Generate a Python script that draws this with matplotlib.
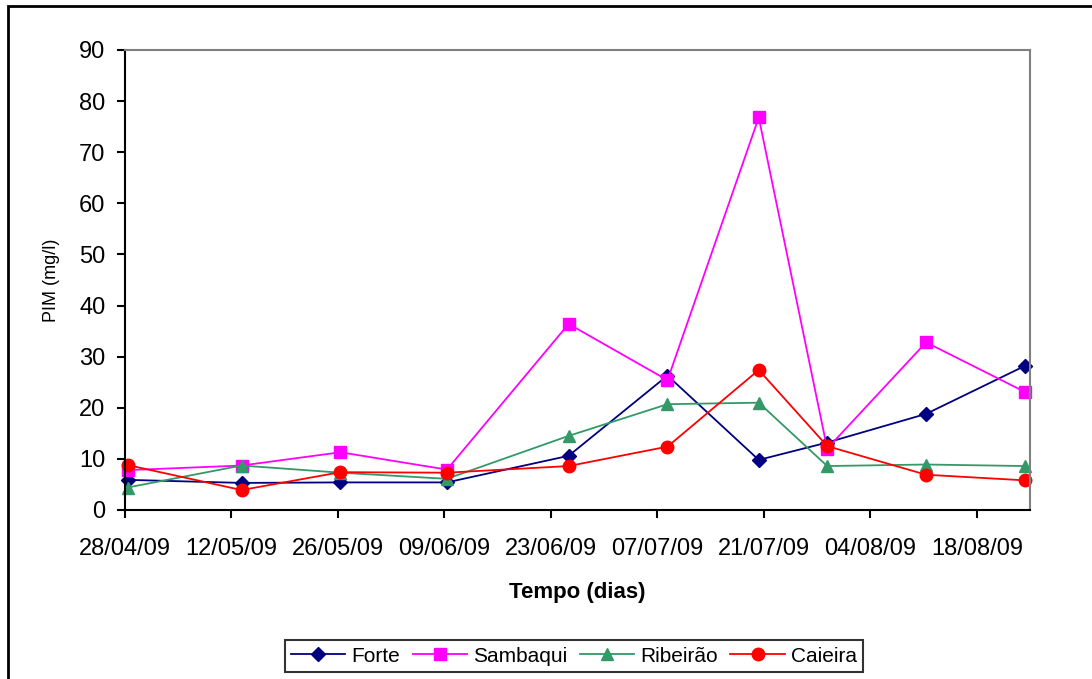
import matplotlib
matplotlib.use("Agg")
import matplotlib.pyplot as plt
import matplotlib.dates as mdates
from matplotlib.patches import Rectangle
from datetime import datetime, timedelta

plt.rcParams['font.family'] = ['Liberation Sans', 'DejaVu Sans']

datas = ["28/04/09", "13/05/09", "26/05/09", "09/06/09", "25/06/09",
         "08/07/09", "20/07/09", "29/07/09", "11/08/09", "24/08/09"]
forte = [5.9, 5.3, 5.4, 5.4, 10.6, 26.3, 9.8, 13.2, 18.8, 28.2]
sambaqui = [7.8, 8.7, 11.3, 7.9, 36.4, 25.4, 76.8, 12.0, 32.8, 23.1]
ribeirao = [4.4, 8.7, 7.3, 6.1, 14.5, 20.7, 21.0, 8.6, 8.9, 8.6]
caieira = [8.8, 3.9, 7.4, 7.3, 8.6, 12.4, 27.4, 12.5, 6.9, 5.8]

x = [datetime.strptime(d, "%d/%m/%y") + timedelta(hours=8) for d in datas]
inicio = datetime(2009, 4, 28)
fim = datetime(2009, 8, 25)

fig = plt.figure(figsize=(10.92, 6.79), dpi=100)
ax = fig.add_axes([125/1092, 1-510/679, (1030-125)/1092, (510-50)/679])

ax.plot(x, forte, color="#000080", marker="D", ms=7, lw=1.3, label="Forte", clip_on=False)
ax.plot(x, sambaqui, color="#FF00FF", marker="s", ms=8, lw=1.3, label="Sambaqui", clip_on=False)
ax.plot(x, ribeirao, color="#339966", marker="^", ms=9, lw=1.3, label="Ribeirão", clip_on=False)
ax.plot(x, caieira, color="#FF0000", marker="o", ms=9, lw=1.3, label="Caieira", clip_on=False)

ax.set_xlim(inicio, fim)
ax.set_ylim(0, 90)
ax.set_yticks(range(0, 91, 10))
ticks = [inicio + timedelta(days=14*i) for i in range(9)]
ax.set_xticks(ticks)
ax.xaxis.set_major_formatter(mdates.DateFormatter("%d/%m/%y"))

ax.spines['top'].set_color("#808080")
ax.spines['right'].set_color("#808080")
for s in ax.spines.values():
    s.set_linewidth(1.5)
ax.tick_params(direction="out", length=6, width=1.5, labelsize=17)
ax.tick_params(axis="x", pad=14)
ax.tick_params(axis="y", pad=8)

ax.set_ylabel("PIM (mg/l)", fontsize=13, labelpad=14)
ax.set_xlabel("Tempo (dias)", fontsize=16, fontweight="bold", labelpad=16)

leg = ax.legend(loc="center", bbox_to_anchor=(574/1092, 1-656/679), bbox_transform=fig.transFigure,
                ncol=4, fontsize=15, frameon=True, fancybox=False, handlelength=2.6,
                handletextpad=0.3, columnspacing=0.6, borderpad=0.3)
leg.get_frame().set_edgecolor("black")
leg.get_frame().set_linewidth(1.5)

fig.patches.append(Rectangle((8/1092, -0.1), 2, 1.1 - 6/679, transform=fig.transFigure,
                             fill=False, edgecolor="black", lw=2))

fig.savefig("out.png", dpi=100)
